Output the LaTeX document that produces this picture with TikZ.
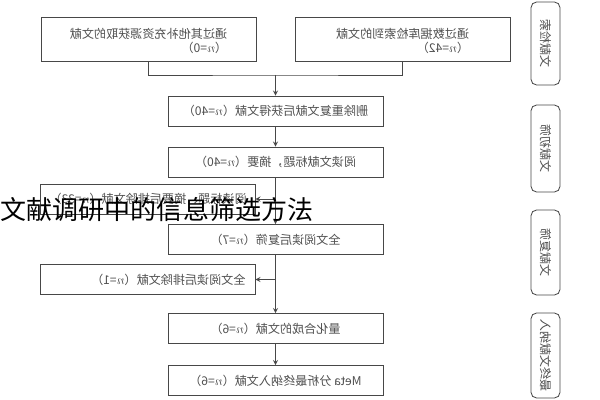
\documentclass[tikz,border=0pt]{standalone}
\usepackage{fontspec}
\usepackage{graphicx}
\setmainfont{Noto Sans CJK SC}
\definecolor{boxline}{HTML}{474747}
\definecolor{boxtext}{HTML}{4F4F4F}
\newcommand{\flip}[1]{\reflectbox{#1}}
\newcommand{\flipside}[1]{\scalebox{1}[-1]{#1}}
\newcommand{\twolines}[2]{\raisebox{-0.08cm}[\height][\depth]{\flip{\def\arraystretch{0.8}\begin{tabular}{@{}l@{}}#1\\#2\end{tabular}}}}
\tikzset{
  flowbox/.style={draw=boxline, line width=0.6pt, text=boxtext, minimum width=5.375cm, minimum height=0.75cm, inner sep=0pt, font=\fontsize{8.6}{10.5}\selectfont},
  srcbox/.style={flowbox, minimum height=1.1cm},
  sidebox/.style={draw=boxline, line width=0.6pt, rounded corners=4pt, text=boxtext, minimum height=0.725cm, inner sep=0pt, rotate=90, font=\fontsize{8.6}{10}\selectfont}
}
\begin{document}
\begin{tikzpicture}[x=0.025cm, y=-0.025cm, >=stealth]
    \useasboundingbox (0,0) rectangle (600,400);
    % sources
    \node[srcbox] (src-other) at (148.5,39) {\twolines{通过其他补充资源获取的文献}{（$n$=0）}};
    \node[srcbox] (src-db) at (402.5,39) {\twolines{通过数据库检索到的文献}{（$n$=42）}};
    \coordinate (join) at (275.5,75);
    % screening chain
    \node[flowbox] (dedup) at (275.5,111) {\flip{删除重复文献后获得文献（$n$=40）}};
    \node[flowbox] (title-read) at (275.5,162) {\flip{阅读文献标题，摘要（$n$=40）}};
    \node[flowbox, text width=4.9cm, align=right] (excl-title) at (147.5,199) {\flip{阅读标题、摘要后排除文献（$n$=33）}};
    \node[flowbox] (fulltext) at (275.5,239.5) {\flip{全文阅读后复筛（$n$=7）}};
    \node[flowbox, text width=4.9cm, align=right] (excl-full) at (147.5,279.5) {\flip{全文阅读后排除文献（$n$=1）}};
    \node[flowbox] (quant) at (275.5,328.5) {\flip{量化合成的文献（$n$=6）}};
    \node[flowbox] (meta) at (275.5,380.5) {\flip{Meta 分析最终纳入文献（$n$=6）}};
    % stage labels
    \node[sidebox, minimum width=2.075cm] (stage-search) at (545.5,43.5) {\flipside{文献检索}};
    \node[sidebox, minimum width=2.175cm] (stage-first) at (545.5,148.5) {\flipside{文献初筛}};
    \node[sidebox, minimum width=2.125cm] (stage-second) at (545.5,252.5) {\flipside{文献复筛}};
    \node[sidebox, minimum width=2.125cm] (stage-final) at (545.5,355.5) {\flipside{最终文献纳入}};

    \draw[boxline, line width=0.6pt] (src-other.south) |- (join) -| (src-db.south);
    \draw[->, boxline, line width=0.6pt] (join) -- (dedup);
    \draw[->, boxline, line width=0.6pt] (dedup) -- (title-read);
    \draw[->, boxline, line width=0.6pt] (title-read) -- (fulltext);
    \draw[->, boxline, line width=0.6pt] (title-read.south |- excl-title.east) -- (excl-title);
    \draw[->, boxline, line width=0.6pt] (fulltext) -- (quant);
    \draw[->, boxline, line width=0.6pt] (fulltext.south |- excl-full.east) -- (excl-full);
    \draw[->, boxline, line width=0.6pt] (quant) -- (meta);

    \node[font=\fontsize{18.5}{20}\selectfont, text=black, inner sep=0pt] (caption) at (157,210) {文献调研中的信息筛选方法};
\end{tikzpicture}
\end{document}
